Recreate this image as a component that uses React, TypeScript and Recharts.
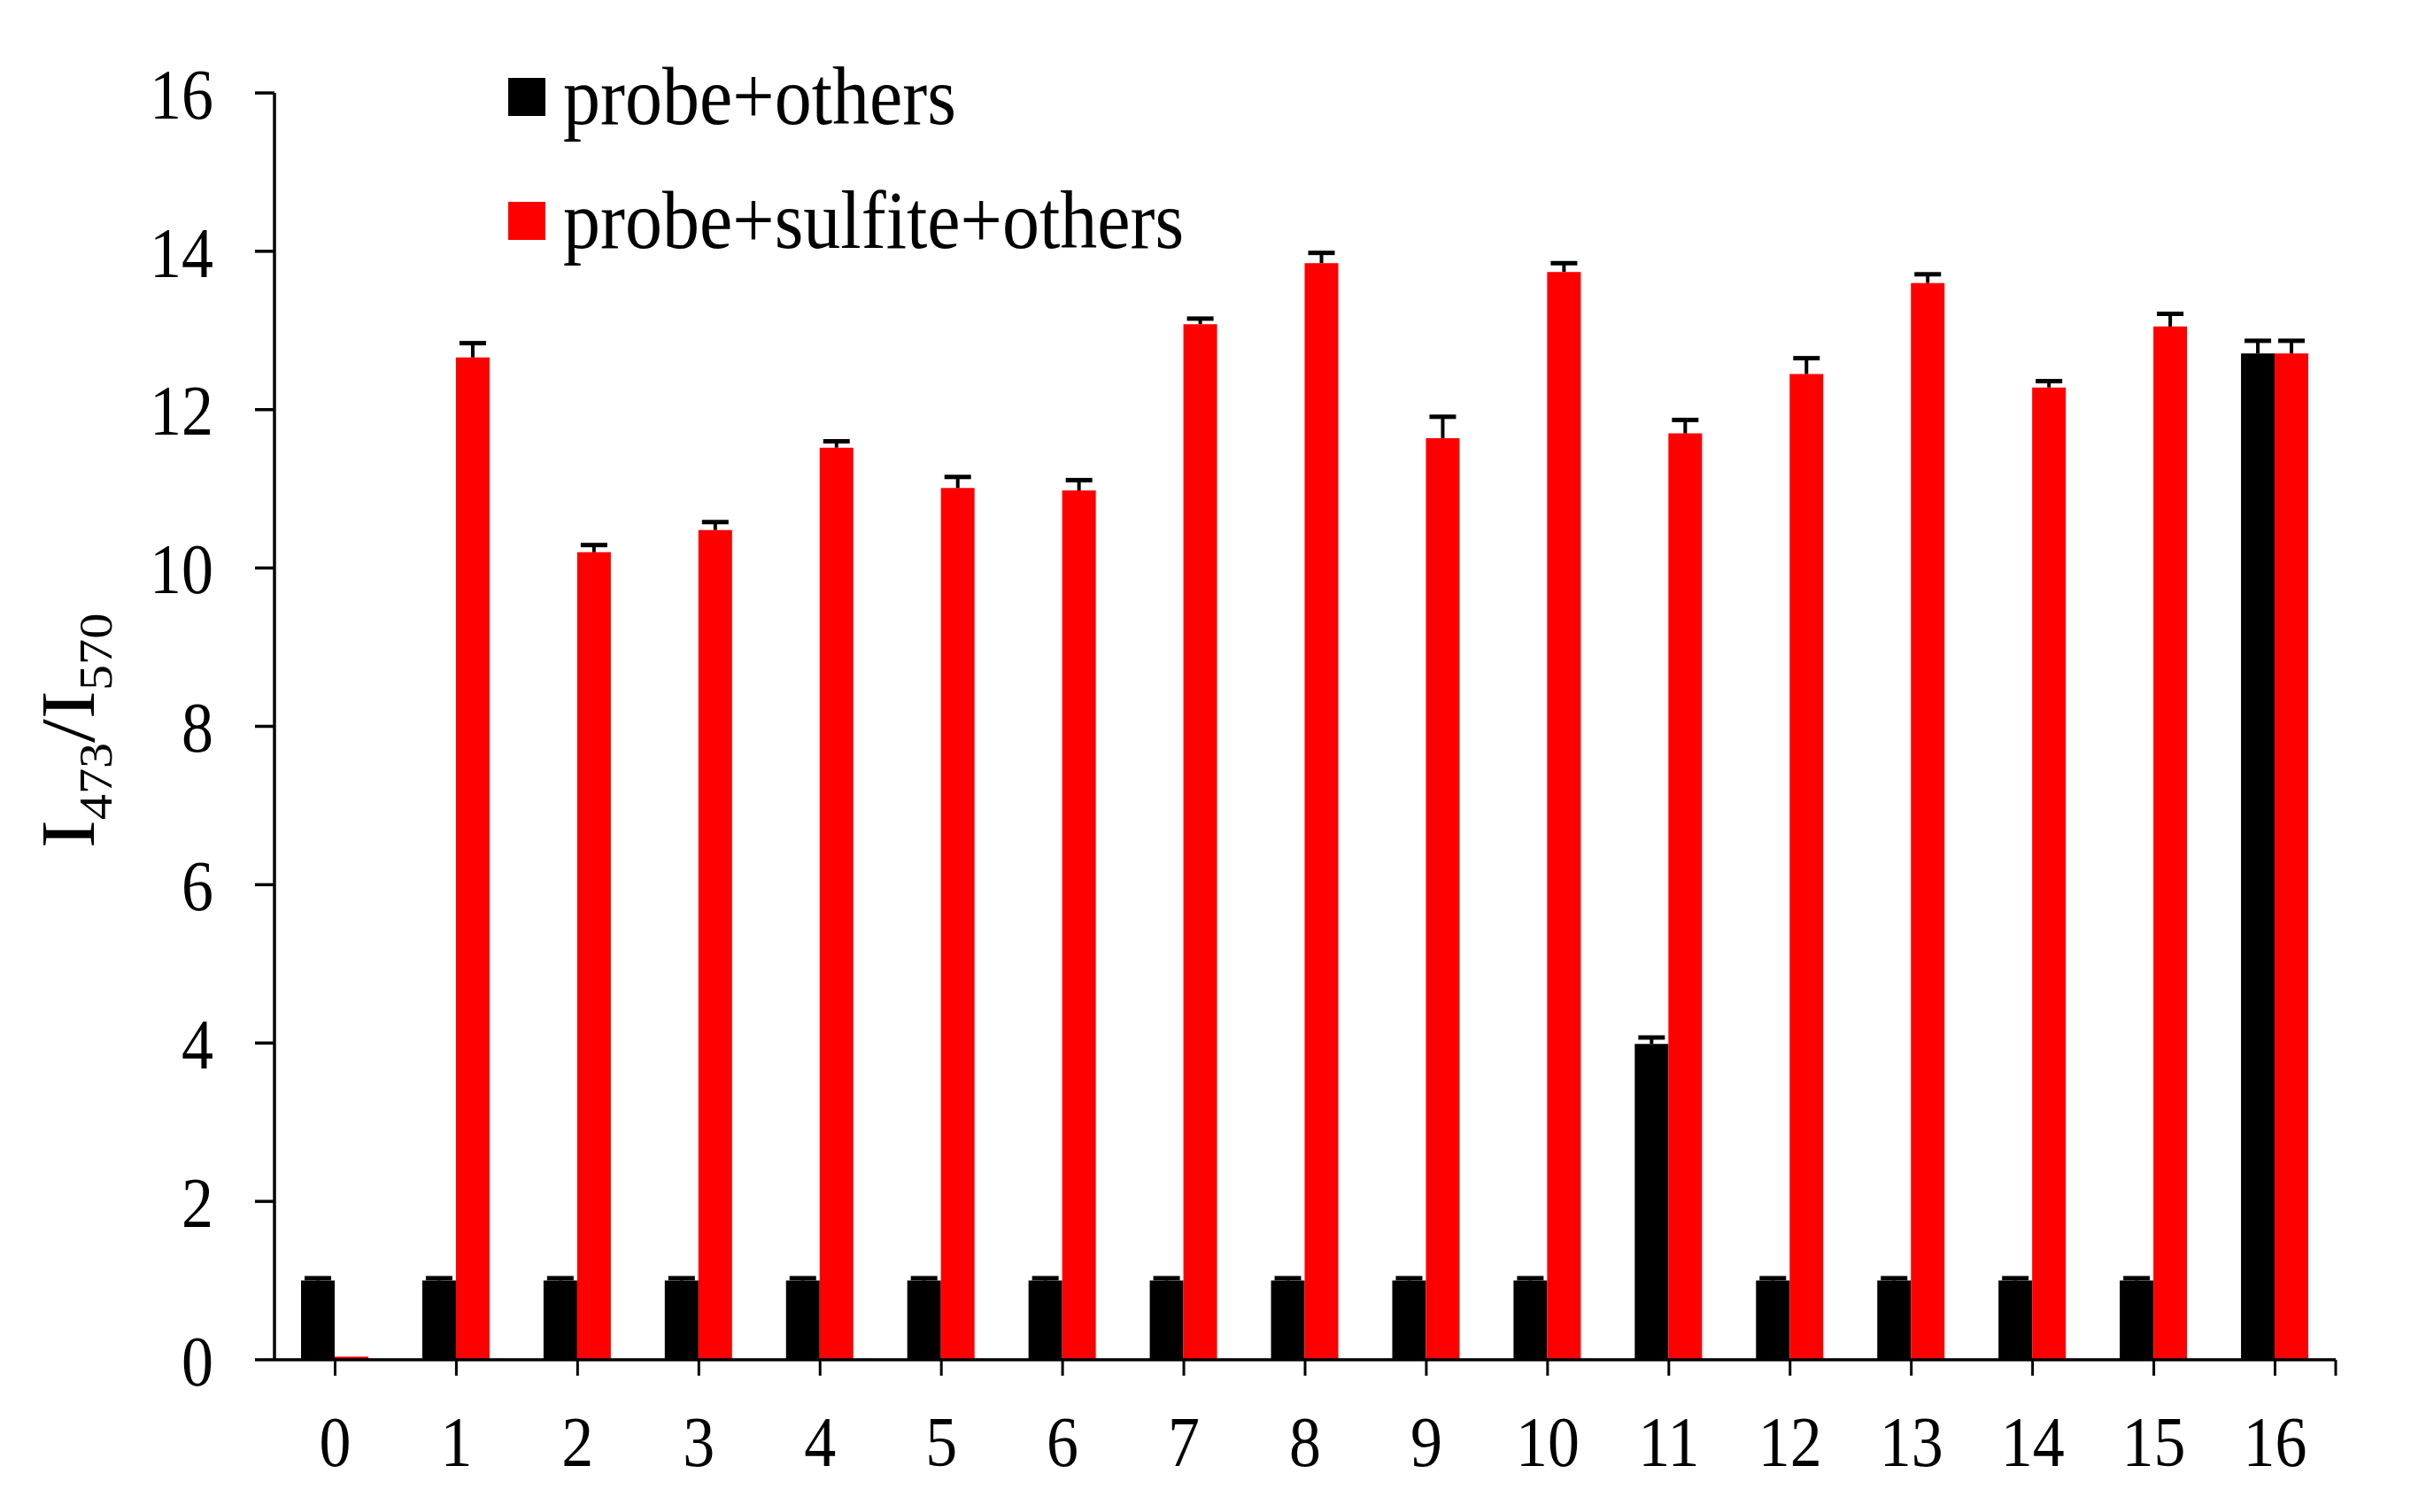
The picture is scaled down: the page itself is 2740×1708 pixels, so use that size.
import React from "react";
import { BarChart, Bar, XAxis, YAxis, Legend } from "recharts";

// 样品编号 0-16
const categories = ["0", "1", "2", "3", "4", "5", "6", "7", "8", "9", "10", "11", "12", "13", "14", "15", "16"];

// probe+others
const probeOthers = [1.0, 1.0, 1.0, 1.0, 1.0, 1.0, 1.0, 1.0, 1.0, 1.0, 1.0, 3.99, 1.0, 1.0, 1.0, 1.0, 12.71];
const probeOthersErr = [0.03, 0.03, 0.03, 0.03, 0.03, 0.03, 0.03, 0.03, 0.03, 0.03, 0.03, 0.08, 0.03, 0.03, 0.03, 0.03, 0.16];

// probe+sulfite+others
const probeSulfite = [0.04, 12.66, 10.2, 10.48, 11.52, 11.01, 10.98, 13.08, 13.85, 11.64, 13.74, 11.7, 12.45, 13.6, 12.28, 13.05, 12.71];
const probeSulfiteErr = [0, 0.18, 0.09, 0.1, 0.08, 0.14, 0.13, 0.07, 0.13, 0.27, 0.11, 0.17, 0.2, 0.11, 0.08, 0.16, 0.16];

const yTicks = [0, 2, 4, 6, 8, 10, 12, 14, 16];

const seriesNames = ["probe+others", "probe+sulfite+others"];

const FONT = "'Liberation Serif', 'Times New Roman', Times, serif";
const STRETCH = 1.12; // 原图文字竖向略拉长

const X_TICK_SIZE = 18;
const X_TICK_MARGIN = 45;

const data = categories.map((c, i) => ({
  label: c,
  others: probeOthers[i],
  sulfite: probeSulfite[i],
}));

// 只画向上的误差棒（用柱子的高度/数值换算像素）
const makeErrLabel = (errs: number[]) => (props: any) => {
  const vb = props.viewBox || {};
  const x = vb.x ?? props.x;
  const y = vb.y ?? props.y;
  const w = vb.width ?? props.width;
  const h = vb.height ?? props.height;
  const err = errs[props.index];
  const v = Number(props.value);
  if (!err || !v || !h) return null;
  const px = (Math.abs(h) / v) * err;
  const top = Math.min(y, y + h);
  const cx = x + w / 2;
  return (
    <g>
      <line x1={cx} x2={cx} y1={top} y2={top - px} stroke="#000" strokeWidth={4} />
      <line x1={cx - 15} x2={cx + 15} y1={top - px} y2={top - px} stroke="#000" strokeWidth={5} />
    </g>
  );
};

const XTick = (props: any) => {
  const { x, y, payload, index } = props;
  const last = index === categories.length - 1;
  const half = payload?.offset ?? 0;
  const axisY = y - X_TICK_SIZE - X_TICK_MARGIN;
  return (
    <g>
      <g transform={`translate(${x},${y}) scale(1,${STRETCH})`}>
        <text x={0} y={0} dy="0.71em" textAnchor="middle" fontFamily={FONT} fontSize={72} fill="#000">
          {payload.value}
        </text>
      </g>
      {last && half > 0 && (
        <line x1={x + half} x2={x + half} y1={axisY} y2={axisY + X_TICK_SIZE} stroke="#000" strokeWidth={3} />
      )}
    </g>
  );
};

const YTick = (props: any) => {
  const { x, y, payload } = props;
  return (
    <g transform={`translate(${x},${y}) scale(1,${STRETCH})`}>
      <text x={0} y={0} dy="0.355em" textAnchor="end" fontFamily={FONT} fontSize={72} fill="#000">
        {payload.value}
      </text>
    </g>
  );
};

const renderLegend = (props: any) => (
  <div style={{ fontFamily: FONT, fontSize: 84, color: "#000" }}>
    {(props.payload || []).map((e: any) => (
      <div key={e.value} style={{ display: "flex", alignItems: "center", height: 84, marginBottom: 56 }}>
        <span style={{ width: 42, height: 43, background: e.color, marginRight: 20, display: "inline-block" }} />
        <span style={{ lineHeight: "84px", whiteSpace: "nowrap", display: "inline-block", transform: `scaleY(${STRETCH})` }}>
          {e.value}
        </span>
      </div>
    ))}
  </div>
);

const YLabel = (props: any) => {
  const vb = props.viewBox || { x: 0, y: 105, width: 310, height: 1431 };
  const x = vb.x + 106;
  const y = vb.y + vb.height / 2 + 5;
  return (
    <g transform={`translate(${x},${y}) scale(1,${STRETCH}) rotate(-90)`}>
      <text x={0} y={0} textAnchor="middle" fontFamily={FONT} fontSize={86} fill="#000">
        I
        <tspan fontSize={52} dy={20}>473</tspan>
        <tspan dy={-20}>/I</tspan>
        <tspan fontSize={52} dy={20}>570</tspan>
      </text>
    </g>
  );
};

export default function App() {
  return (
    <div style={{ position: "absolute", left: 0, top: 0, width: 2740, height: 1708, background: "#fff" }}>
      <BarChart
        width={2740}
        height={1708}
        data={data}
        margin={{ top: 105, right: 102, bottom: 0, left: 0 }}
        barCategoryGap={30}
        barGap={0}
      >
        <XAxis
          dataKey="label"
          height={172}
          tickSize={X_TICK_SIZE}
          tickMargin={X_TICK_MARGIN}
          axisLine={{ stroke: "#000", strokeWidth: 3.5 }}
          tickLine={{ stroke: "#000", strokeWidth: 3 }}
          tick={(p: any) => <XTick {...p} />}
          interval={0}
        />
        <YAxis
          width={310}
          domain={[0, 16]}
          ticks={yTicks}
          tickSize={22}
          tickMargin={47}
          axisLine={{ stroke: "#000", strokeWidth: 3.5 }}
          tickLine={{ stroke: "#000", strokeWidth: 3.5 }}
          tick={(p: any) => <YTick {...p} />}
          label={{ content: (p: any) => <YLabel {...p} /> }}
        />
        <Legend
          layout="horizontal"
          verticalAlign="middle"
          align="center"
          content={renderLegend}
          wrapperStyle={{ left: 574, top: 67, width: 900 }}
        />
        <Bar
          dataKey="others"
          name={seriesNames[0]}
          fill="#000000"
          isAnimationActive={false}
          label={makeErrLabel(probeOthersErr)}
        />
        <Bar
          dataKey="sulfite"
          name={seriesNames[1]}
          fill="#ff0000"
          isAnimationActive={false}
          label={makeErrLabel(probeSulfiteErr)}
        />
      </BarChart>
    </div>
  );
}
